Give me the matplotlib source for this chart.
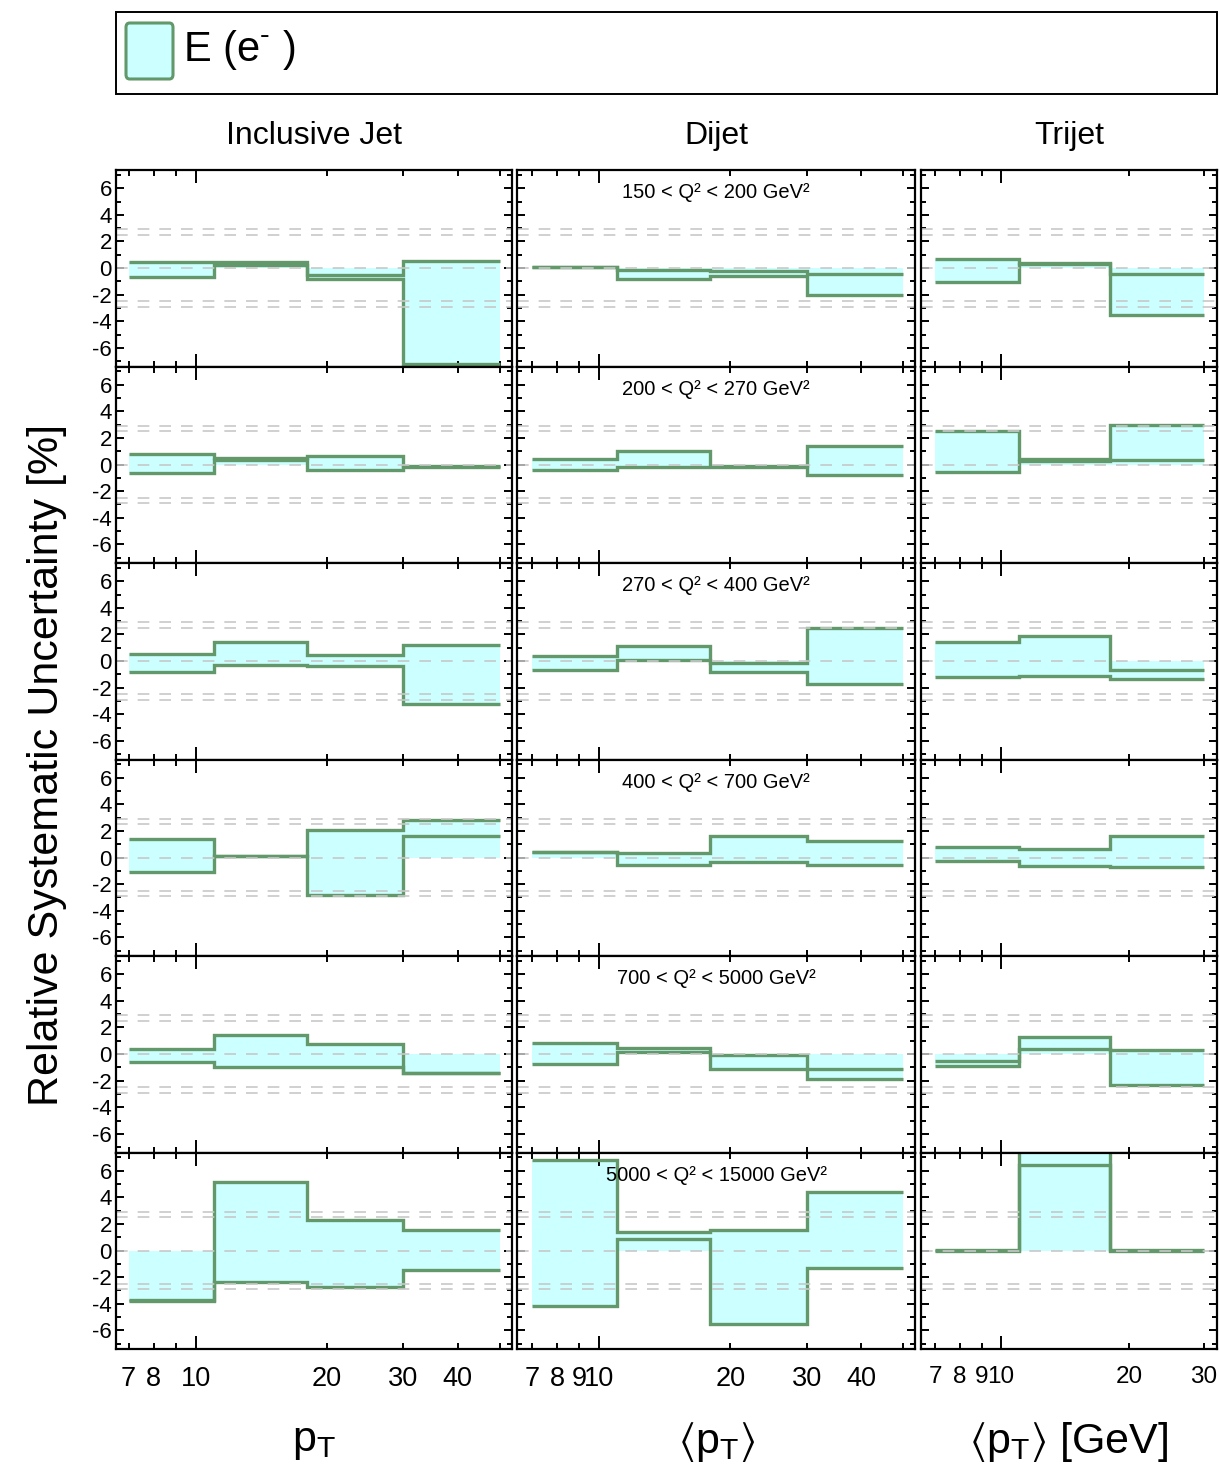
import numpy as np
import matplotlib
matplotlib.use("Agg")
import matplotlib.pyplot as plt
from matplotlib.patches import Rectangle, FancyBboxPatch
from matplotlib.ticker import FixedLocator, NullFormatter

plt.rcParams["font.family"] = ["Liberation Sans", "DejaVu Sans"]
plt.rcParams["mathtext.fontset"] = "custom"
plt.rcParams["mathtext.rm"] = "Liberation Sans"
plt.rcParams["mathtext.default"] = "regular"
plt.rcParams["axes.unicode_minus"] = False

# ---------------- data ----------------
pt_edges = [7, 11, 18, 30, 50]          # inclusive jet and dijet bins [GeV]
trijet_edges = [7, 11, 18, 30]          # trijet bins [GeV]

column_titles = ["Inclusive Jet", "Dijet", "Trijet"]
x_titles = [r"$p_T$", r"$\langle p_T\rangle$", r"$\langle p_T\rangle$ [GeV]"]
q2_labels = [
    "150 < Q² < 200 GeV²",
    "200 < Q² < 270 GeV²",
    "270 < Q² < 400 GeV²",
    "400 < Q² < 700 GeV²",
    "700 < Q² < 5000 GeV²",
    "5000 < Q² < 15000 GeV²",
]
legend_label = r"E (e$^{\text{-}}$ )"
y_title = "Relative Systematic Uncertainty [%]"

# relative uncertainty [%], one row per Q2 bin, one entry per pT bin
incl_up = [
    [0.45, 0.45, -0.55, 0.50],
    [0.78, 0.50, 0.65, -0.12],
    [0.52, 1.42, 0.42, 1.20],
    [1.40, 0.15, 2.08, 2.83],
    [0.40, 1.42, 0.72, -1.40],
    [-3.75, 5.17, 2.27, 1.56],
]
incl_down = [
    [-0.65, 0.20, -0.80, -7.20],
    [-0.60, 0.33, -0.43, -0.20],
    [-0.82, -0.30, -0.40, -3.20],
    [-1.10, 0.10, -2.80, 1.60],
    [-0.58, -0.95, -0.95, -1.45],
    [-3.80, -2.40, -2.72, -1.46],
]
dijet_up = [
    [0.10, -0.15, -0.20, -0.42],
    [0.40, 1.03, -0.10, 1.43],
    [0.38, 1.15, -0.15, 2.52],
    [0.42, 0.35, 1.60, 1.22],
    [0.82, 0.48, -0.10, -1.10],
    [6.80, 1.36, 1.54, 4.41],
]
dijet_down = [
    [0.05, -0.80, -0.62, -2.00],
    [-0.38, -0.15, -0.15, -0.78],
    [-0.65, 0.10, -0.82, -1.70],
    [0.38, -0.58, -0.33, -0.55],
    [-0.72, 0.15, -1.15, -1.88],
    [-4.20, 0.88, -5.54, -1.34],
]
trijet_up = [
    [0.68, 0.35, -0.45],
    [2.55, 0.45, 2.95],
    [1.40, 1.85, -0.70],
    [0.80, 0.62, 1.65],
    [-0.50, 1.25, 0.33],
    [0.05, 8.00, 0.05],
]
trijet_down = [
    [-1.07, 0.30, -3.50],
    [-0.55, 0.25, 0.35],
    [-1.18, -1.10, -1.38],
    [-0.25, -0.62, -0.70],
    [-0.92, 0.40, -2.33],
    [0.00, 6.42, 0.00],
]

ref_lines = [-2.9, -2.5, 0.0, 2.5, 2.9]

# ---------------- styling ----------------
FILL = "#ccffff"
EDGE = "#62986a"
DASH = "#c8c8c8"

W, H = 1220, 1472
fig = plt.figure(figsize=(W / 100, H / 100), dpi=100)

col_px = [(116, 512), (517, 915), (921, 1217)]
xlims = [(6.55, 53.3), (6.47, 53.2), (6.48, 32.2)]
x_label_size = [19.5, 19.5, 17.5]
row_top, row_bot = 170, 1349
n_rows = 6
row_h = (row_bot - row_top) / n_rows
ylim = (-7.4, 7.37)

minor_x = [[7, 8, 9, 20, 30, 40, 50], [7, 8, 9, 20, 30, 40, 50], [7, 8, 9, 20, 30]]
minor_lbl = [["7", "8", "", "20", "30", "40", ""],
             ["7", "8", "9", "20", "30", "40", ""],
             ["7", "8", "9", "20", "30"]]

series = [(pt_edges, incl_up, incl_down),
          (pt_edges, dijet_up, dijet_down),
          (trijet_edges, trijet_up, trijet_down)]


def px_axes(x0, x1, y0, y1):
    return fig.add_axes([x0 / W, 1 - y1 / H, (x1 - x0) / W, (y1 - y0) / H])


for r in range(n_rows):
    y0 = row_top + r * row_h
    y1 = y0 + row_h
    for c in range(3):
        ax = px_axes(col_px[c][0], col_px[c][1], y0, y1)
        edges, up_all, dn_all = series[c]
        up = np.array(up_all[r])
        dn = np.array(dn_all[r])
        hi = np.maximum(np.maximum(up, dn), 0)
        lo = np.minimum(np.minimum(up, dn), 0)
        ax.fill_between(edges, np.append(lo, lo[-1]), np.append(hi, hi[-1]),
                        step="post", color=FILL, lw=0, zorder=1)
        ax.stairs(dn, edges, baseline=None, color=EDGE, lw=2.4, zorder=2)
        ax.stairs(up, edges, baseline=None, color=EDGE, lw=2.4, zorder=2)
        for v in ref_lines:
            ax.axhline(v, color=DASH, lw=1.2, dashes=(7, 6), zorder=3)

        ax.set_xscale("log")
        ax.set_xlim(*xlims[c])
        ax.set_ylim(*ylim)

        ax.xaxis.set_major_locator(FixedLocator([10]))
        ax.xaxis.set_minor_locator(FixedLocator(minor_x[c]))
        ax.yaxis.set_major_locator(FixedLocator([-6, -4, -2, 0, 2, 4, 6]))
        ax.yaxis.set_minor_locator(FixedLocator([-7, -5, -3, -1, 1, 3, 5, 7]))
        ax.tick_params(which="both", direction="in", top=True, right=True,
                       colors="black", width=1.4)
        ax.tick_params(axis="x", which="major", length=9.5,
                       labelsize=x_label_size[c], pad=12)
        ax.tick_params(axis="x", which="minor", length=4.5,
                       labelsize=x_label_size[c], pad=12)
        ax.tick_params(axis="y", which="major", length=6, labelsize=16, pad=3)
        ax.tick_params(axis="y", which="minor", length=3.5)
        ax.yaxis.set_minor_formatter(NullFormatter())

        if r == n_rows - 1:
            ax.set_xticklabels(["10"])
            ax.set_xticklabels(minor_lbl[c], minor=True)
        else:
            ax.set_xticklabels([])
            ax.xaxis.set_minor_formatter(NullFormatter())
        if c == 0:
            ax.set_yticklabels(["-6", "-4", "-2", "0", "2", "4", "6"])
        else:
            ax.set_yticklabels([])

        for s in ax.spines.values():
            s.set_linewidth(1.6)
            s.set_zorder(5)

        if c == 1:
            ax.text(0.5, 0.885, q2_labels[r], transform=ax.transAxes,
                    ha="center", va="center", fontsize=14.5, zorder=6)

# column headings and axis titles
col_centres = [314, 716, 1069]
for c in range(3):
    fig.text(col_centres[c] / W, 1 - 136 / H, column_titles[c],
             ha="center", va="center", fontsize=23)
    fig.text(col_centres[c] / W, 1 - 1442 / H, x_titles[c],
             ha="center", va="center", fontsize=31)

fig.text(47 / W, 1 - 765 / H, y_title, rotation=90,
         ha="center", va="center", fontsize=31)

# legend box
fig.patches.append(Rectangle((116 / W, 1 - 94 / H), (1217 - 116) / W, 82 / H,
                             transform=fig.transFigure, fill=False,
                             ec="black", lw=1.4))
fig.patches.append(FancyBboxPatch((126 / W, 1 - 79 / H), 47 / W, 56 / H,
                                  boxstyle="round,pad=0,rounding_size=0.003",
                                  transform=fig.transFigure, fc=FILL,
                                  ec=EDGE, lw=2.2))
fig.text(183 / W, 1 - 50 / H, legend_label, ha="left", va="center", fontsize=30)

fig.savefig("out.png", dpi=100)
